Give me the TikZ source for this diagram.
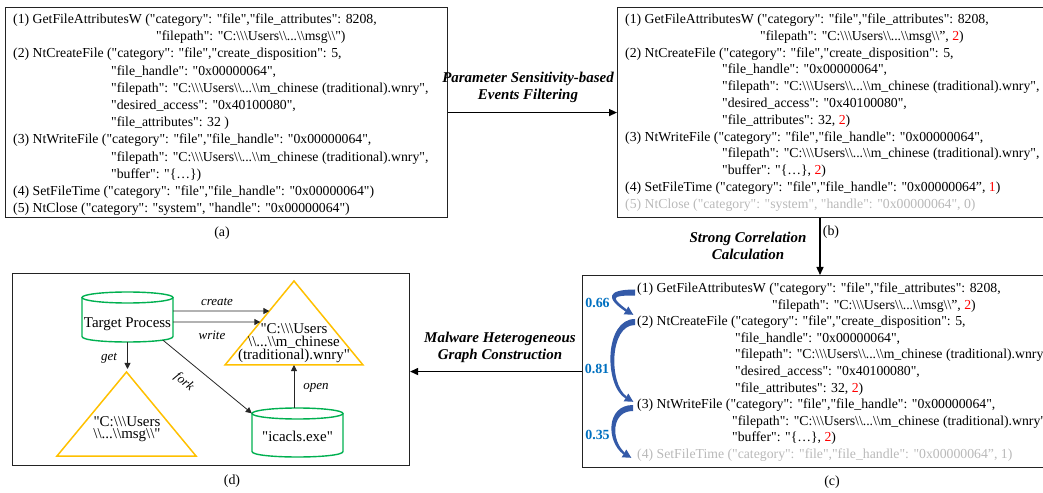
\documentclass[tikz,border=0pt]{standalone}
\usepackage{fontspec}
\setmainfont{Liberation Serif}[Ligatures=TeXOff]
\usetikzlibrary{arrows.meta,calc}

\definecolor{panelline}{RGB}{35,35,35}
\definecolor{evgrey}{RGB}{185,185,185}
\definecolor{evred}{RGB}{255,0,0}
\definecolor{scoreblue}{RGB}{0,112,192}
\definecolor{corrblue}{RGB}{52,90,168}
\definecolor{procgreen}{RGB}{0,176,80}
\definecolor{filegold}{RGB}{255,192,0}

\newcommand\bks{\textbackslash}
\newcommand\redn[1]{\textcolor{evred}{#1}}
\newcommand\evtxt{\fontsize{13.8}{16.8}\selectfont}

% tapered curved arrow: #1 tail point, #2 shaft end, #3 bulge to the left
\newcommand\corrarrow[3]{%
  \fill[corrblue] ($(#1)+(0,-3)$)
      .. controls ($(#1)+(-#3-2,-3)$) and ($(#2 -| #1)+(-#3-2,-12)$) .. ($(#2)+(-0.6,1.0)$)
      -- ($(#2)+(0.6,-1.0)$)
      .. controls ($(#2 -| #1)+(-#3+3,-13)$) and ($(#1)+(-#3+3,3)$) .. ($(#1)+(0,3)$) -- cycle;
  \fill[corrblue] ($(#2)+(7.3,4.4)$) -- ($(#2)+(-2.3,3.9)$) -- ($(#2)+(2.3,-3.9)$) -- cycle;
}

% cylinder outline: #1 centre x, #2 top y, #3 bottom y, #4 half width
\newcommand\drum[4]{%
  \draw[store] (#1-#4,#2+5.5) -- (#1-#4,#3-5.5)
     .. controls (#1-#4,#3+1.83) and (#1+#4,#3+1.83) .. (#1+#4,#3-5.5) -- (#1+#4,#2+5.5);
  \draw[store] (#1,#2+5.5) ellipse[x radius=#4, y radius=5.5];
}

\begin{document}
\begin{tikzpicture}[x=1bp,y=-1bp,
  panel/.style={draw=panelline, line width=1.1bp, inner sep=0pt, anchor=north west},
  ln/.style={anchor=base west, inner sep=0pt, font=\evtxt},
  stagelbl/.style={font=\fontsize{15}{17}\selectfont\bfseries\itshape, align=center, inner sep=0pt},
  flow/.style={line width=1.4bp, -{Triangle[length=8bp,width=7bp]}},
  edge/.style={line width=0.9bp, draw=black!85, -{Triangle[length=6bp,width=6bp]}},
  edgelbl/.style={font=\fontsize{13}{15}\selectfont\itshape, inner sep=0pt},
  caption/.style={font=\fontsize{14}{16}\selectfont, inner sep=0pt},
  score/.style={font=\fontsize{14}{16}\selectfont\bfseries, text=scoreblue, inner sep=0pt},
  store/.style={draw=procgreen, line width=1.4bp},
  file/.style={draw=filegold, line width=1.5bp, line join=miter},
  drumtxt/.style={font=\fontsize{15}{17}\selectfont, inner sep=0pt},
  filetxt/.style={font=\fontsize{15}{13}\selectfont, align=center, inner sep=0pt}]
\useasboundingbox (0,0) rectangle (1043,493);
\clip (0,0) rectangle (1043,493);

% ---------- panels ----------
\node[panel, minimum width=442bp, minimum height=210bp] (A) at (5,7) {};
\node[panel, minimum width=440bp, minimum height=210bp] (B) at (617,7) {};
\node[panel, minimum width=480bp, minimum height=192bp] (C) at (582,275) {};
\node[panel, minimum width=397bp, minimum height=192bp] (D) at (12,273) {};

\node[caption] (capA) at (222,233) {(a)};
\node[caption] (capB) at (831,232) {(b)};
\node[caption] (capC) at (832,482) {(c)};
\node[caption] (capD) at (232,481) {(d)};

% ---------- raw events ----------
\node[ln] (a1)  at (13,23.5)  {(1) GetFileAttributesW ("category": "file","file\_attributes": 8208,};
\node[ln] (a2)  at (156,40.7) {"filepath": "C:\bks\bks\bks Users\bks\bks...\bks\bks msg\bks\bks")};
\node[ln] (a3)  at (13,57.9)  {(2) NtCreateFile ("category": "file","create\_disposition": 5,};
\node[ln] (a4)  at (111,75.1) {"file\_handle": "0x00000064",};
\node[ln] (a5)  at (111,92.3) {"filepath": "C:\bks\bks\bks Users\bks\bks...\bks\bks m\_chinese (traditional).wnry",};
\node[ln] (a6)  at (111,109.5) {"desired\_access": "0x40100080",};
\node[ln] (a7)  at (111,126.7) {"file\_attributes": 32 )};
\node[ln] (a8)  at (13,143.9) {(3) NtWriteFile ("category": "file","file\_handle": "0x00000064",};
\node[ln] (a9)  at (111,161.1) {"filepath": "C:\bks\bks\bks Users\bks\bks...\bks\bks m\_chinese (traditional).wnry",};
\node[ln] (a10) at (111,178.3) {"buffer": "\{…\})};
\node[ln] (a11) at (13,195.5) {(4) SetFileTime ("category": "file","file\_handle": "0x00000064")};
\node[ln] (a12) at (13,212.7) {(5) NtClose ("category": "system", "handle": "0x00000064")};

% ---------- filtered events ----------
\node[ln] (b1)  at (625,23.5)  {(1) GetFileAttributesW ("category": "file","file\_attributes": 8208,};
\node[ln] (b2)  at (760,40.3)  {"filepath": "C:\bks\bks\bks Users\bks\bks...\bks\bks msg\bks\bks”, \redn{2})};
\node[ln] (b3)  at (625,57.1)  {(2) NtCreateFile ("category": "file","create\_disposition": 5,};
\node[ln] (b4)  at (722,73.9)  {"file\_handle": "0x00000064",};
\node[ln] (b5)  at (722,90.7)  {"filepath": "C:\bks\bks\bks Users\bks\bks...\bks\bks m\_chinese (traditional).wnry",};
\node[ln] (b6)  at (722,107.5) {"desired\_access": "0x40100080",};
\node[ln] (b7)  at (722,124.3) {"file\_attributes": 32, \redn{2})};
\node[ln] (b8)  at (625,141.1) {(3) NtWriteFile ("category": "file","file\_handle": "0x00000064",};
\node[ln] (b9)  at (722,157.9) {"filepath": "C:\bks\bks\bks Users\bks\bks...\bks\bks m\_chinese (traditional).wnry",};
\node[ln] (b10) at (722,174.7) {"buffer": "\{…\}, \redn{2})};
\node[ln] (b11) at (625,191.5) {(4) SetFileTime ("category": "file","file\_handle": "0x00000064”, \redn{1})};
\node[ln, text=evgrey] (b12) at (625,208.3) {(5) NtClose ("category": "system", "handle": "0x00000064", 0)};

% ---------- correlated events ----------
\node[ln] (c1)  at (637,292.5) {(1) GetFileAttributesW ("category": "file","file\_attributes": 8208,};
\node[ln] (c2)  at (772,309.1) {"filepath": "C:\bks\bks\bks Users\bks\bks...\bks\bks msg\bks\bks”, \redn{2})};
\node[ln] (c3)  at (637,325.7) {(2) NtCreateFile ("category": "file","create\_disposition": 5,};
\node[ln] (c4)  at (735,342.3) {"file\_handle": "0x00000064",};
\node[ln] (c5)  at (735,358.9) {"filepath": "C:\bks\bks\bks Users\bks\bks...\bks\bks m\_chinese (traditional).wnry",};
\node[ln] (c6)  at (735,375.5) {"desired\_access": "0x40100080",};
\node[ln] (c7)  at (735,392.1) {"file\_attributes": 32, \redn{2})};
\node[ln] (c8)  at (637,408.7) {(3) NtWriteFile ("category": "file","file\_handle": "0x00000064",};
\node[ln] (c9)  at (732,425.3) {"filepath": "C:\bks\bks\bks Users\bks\bks...\bks\bks m\_chinese (traditional).wnry",};
\node[ln] (c10) at (732,441.9) {"buffer": "\{…\}, \redn{2})};
\node[ln, text=evgrey] (c11) at (637,458.5) {(4) SetFileTime ("category": "file","file\_handle": "0x00000064”, 1)};

% correlation arrows with their scores
\coordinate (s1) at (635,292.5);  \coordinate (e1) at (626,310.4);
\coordinate (s2) at (635,322);    \coordinate (e2) at (626,397.4);
\coordinate (s3) at (633,408);    \coordinate (e3) at (624,453.4);
\corrarrow{s1}{e1}{27}
\corrarrow{s2}{e2}{29}
\corrarrow{s3}{e3}{25}
\node[score] (w1) at (597.5,303) {0.66};
\node[score] (w2) at (597,369) {0.81};
\node[score] (w3) at (597.5,435) {0.35};

% ---------- stage arrows ----------
\draw[flow] (A.east) -- (A.east -| B.west);
\node[stagelbl] (lab1) at (528,87) {Parameter Sensitivity-based\\Events Filtering};
\coordinate (bcx) at (820,0);
\draw[flow] (B.south -| bcx) -- (C.north -| bcx);
\node[stagelbl] (lab2) at (748,246) {Strong Correlation\\Calculation};
\draw[flow] (C.west) -- (C.west -| D.east);
\node[stagelbl] (lab3) at (500,347.5) {Malware Heterogeneous\\Graph Construction};

% ---------- heterogeneous graph ----------
\drum{127.5}{292}{342}{45.5}
\node[drumtxt, minimum width=91bp, minimum height=50bp, text height=20bp, text depth=0bp] (tp) at (127.5,317) {Target Process};
\drum{297.5}{408}{457}{45.5}
\node[drumtxt, minimum width=91bp, minimum height=49bp, text height=17bp, text depth=0bp] (ic) at (297.5,432.5) {"icacls.exe"};

\coordinate (f1apex) at (294,281);
\coordinate (f1left) at (225,365);
\coordinate (f1right) at (363,365);
\draw[file] (f1apex) -- (f1left) -- (f1right) -- cycle;
\node[filetxt] (f1) at (294,343.5) {"C:\bks\bks\bks Users\\\bks\bks...\bks\bks m\_chinese\\(traditional).wnry"};

\coordinate (f2apex) at (126.5,372);
\coordinate (f2left) at (57,456);
\coordinate (f2right) at (196,456);
\draw[file] (f2apex) -- (f2left) -- (f2right) -- cycle;
\node[filetxt, font=\fontsize{15}{12.5}\selectfont] (f2) at (127,429) {"C:\bks\bks\bks Users\\\bks\bks...\bks\bks msg\bks\bks"};

\coordinate (cr0) at ($(tp.east)+(0,-6)$);
\coordinate (cr1) at ($(cr0)+(150,0)$);
\coordinate (wr0) at ($(tp.east)+(0,5)$);
\coordinate (wr1) at ($(wr0)+(150,0)$);
\draw[edge] (cr0) -- (intersection of cr0--cr1 and f1apex--f1left);
\draw[edge] (wr0) -- (intersection of wr0--wr1 and f1apex--f1left);
\node[edgelbl] (lcr) at (217,302) {create};
\node[edgelbl] (lwr) at (212,335) {write};

\draw[edge] (tp.south) -- ($(tp.south |- f2apex)+(0,-3)$);
\node[edgelbl] (lget) at (109,358) {get};

\draw[edge, line width=0.8bp] ($(tp.south)+(35.5,-2)$) -- ($(ic.north west)+(0,5.5)$);
\node[edgelbl, rotate=-40] (lfork) at (184,382) {fork};

\draw[edge] (ic.north -| f1apex) -- (f1apex |- f1left);
\node[edgelbl] (lopen) at (316,388) {open};
\end{tikzpicture}
\end{document}
